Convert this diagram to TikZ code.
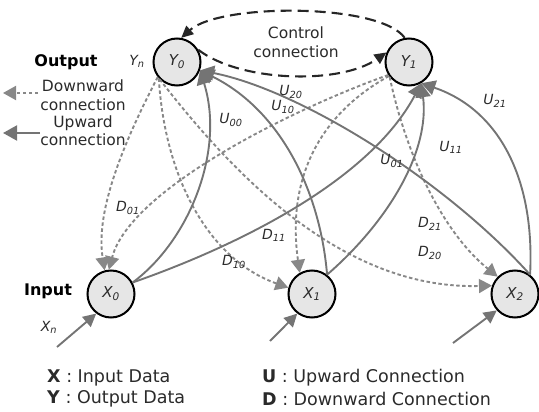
\documentclass[tikz,border=0pt]{standalone}
\usepackage{fontspec}
\setmainfont{DejaVu Sans}
\usetikzlibrary{arrows.meta}
\definecolor{upc}{HTML}{747474}
\definecolor{dnc}{HTML}{888888}
\definecolor{nfill}{HTML}{E6E6E6}
\definecolor{tgray}{HTML}{2A2A2A}
\begin{document}
\begin{tikzpicture}[x=1pt,y=-1pt,
  vnode/.style={circle,draw=black,line width=2pt,fill=nfill,minimum size=47pt,inner sep=0pt,
    font=\fontsize{15}{18}\selectfont\itshape,text=tgray},
  upline/.style={draw=upc,line width=1.9pt,-{Triangle[length=14pt,width=15pt,fill=upc]}},
  dnline/.style={draw=dnc,line width=1.9pt,dash pattern=on 3.5pt off 2.5pt,-{Triangle[length=13pt,width=14pt,fill=dnc]}},
  ctrl/.style={draw=black!85,line width=2.1pt,dash pattern=on 11pt off 6pt,-{Triangle[length=12pt,width=11pt]}},
  inarrow/.style={draw=upc,line width=1.9pt,-{Triangle[length=13pt,width=13pt,fill=upc]}},
  lab/.style={font=\fontsize{14}{16}\selectfont\itshape,text=tgray,inner sep=0pt},
  txt/.style={font=\fontsize{15.5}{19}\selectfont,align=center,inner sep=0pt,text=tgray},
  boldtxt/.style={font=\fontsize{16}{19}\selectfont\bfseries,inner sep=0pt},
  legend/.style={font=\fontsize{17.5}{21}\selectfont,anchor=west,inner sep=0pt,text=tgray}]
\useasboundingbox (0,0) rectangle (539,412);

% nodes
\node[vnode] (Y0) at (177,62) {Y\textsubscript{0}};
\node[vnode] (Y1) at (409,62) {Y\textsubscript{1}};
\node[vnode] (X0) at (111,294) {X\textsubscript{0}};
\node[vnode] (X1) at (312,294) {X\textsubscript{1}};
\node[vnode] (X2) at (515,294) {X\textsubscript{2}};

% control connection
\node[txt] (ctl) at (296,42) {Control\\connection};
\draw[ctrl] (Y1.100) .. controls (380,3) and (220,3) .. (Y0.80);
\draw[ctrl] (Y0.30) .. controls (240,82) and (340,85) .. (Y1.157);

% downward connections
\draw[dnline] (Y0.218) .. controls (125,140) and (95,210) .. (X0.105);
\draw[dnline] (Y0.222) .. controls (165,180) and (210,260) .. (X1.165);
\draw[dnline] (Y0.225) .. controls (230,170) and (340,290) .. (X2.160);
\draw[dnline] (Y1.212) .. controls (290,110) and (130,190) .. (X0.95);
\draw[dnline] (Y1.215) .. controls (310,120) and (288,190) .. (X1.120);
\draw[dnline] (Y1.218) .. controls (405,150) and (440,230) .. (X2.135);

% upward connections
\draw[upline] (X0.28) .. controls (190,240) and (225,150) .. (Y0.-20);
\draw[upline] (X1.52) .. controls (320,190) and (280,110) .. (Y0.-20);
\draw[upline] (X2.52) .. controls (445,180) and (300,90) .. (Y0.-20);
\draw[upline] (X0.28) .. controls (240,245) and (370,180) .. (Y1.-60);
\draw[upline] (X1.52) .. controls (390,220) and (430,150) .. (Y1.-60);
\draw[upline] (X2.52) .. controls (535,180) and (500,110) .. (Y1.-60);

% labels
\node[lab] (u00) at (231,120) {U\textsubscript{00}};
\node[lab] (u10) at (283,107) {U\textsubscript{10}};
\node[lab] (u20) at (291,92) {U\textsubscript{20}};
\node[lab] (u01) at (392,161) {U\textsubscript{01}};
\node[lab] (u11) at (451,147) {U\textsubscript{11}};
\node[lab] (u21) at (495,101) {U\textsubscript{21}};
\node[lab] (d01) at (128,208) {D\textsubscript{01}};
\node[lab] (d10) at (234,262) {D\textsubscript{10}};
\node[lab] (d11) at (274,235) {D\textsubscript{11}};
\node[lab] (d21) at (430,224) {D\textsubscript{21}};
\node[lab] (d20) at (430,253) {D\textsubscript{20}};
\node[lab] (yn) at (137,61) {Y\textsubscript{n}};
\node[lab] (xn) at (49,327) {X\textsubscript{n}};

% left side texts
\node[boldtxt] (out) at (66,62) {Output};
\node[txt] (dtxt) at (83,95) {Downward\\connection};
\node[txt,font=\fontsize{15.5}{18}\selectfont] (utxt) at (83,131) {Upward\\connection};
\coordinate (dA) at (38,93);
\coordinate (dB) at (3,93);
\coordinate (uA) at (40,133);
\coordinate (uB) at (3,133);
\draw[dnline] (dA) -- (dB);
\draw[upline] (uA) -- (uB);
\node[boldtxt] (inp) at (48,291) {Input};

% input arrows
\coordinate (i0) at (57,347);
\coordinate (i1) at (270,341);
\coordinate (i2) at (453,343);
\draw[inarrow] (i0) -- (X0.233);
\draw[inarrow] (i1) -- (X1.233);
\draw[inarrow] (i2) -- (X2.222);

% legend
\node[legend] (lx) at (47,378) {\textbf{X} : Input Data};
\node[legend] (ly) at (47,399) {\textbf{Y} : Output Data};
\node[legend] (lu) at (262,378) {\textbf{U} : Upward Connection};
\node[legend] (ld) at (262,399) {\textbf{D} : Downward Connection};
\end{tikzpicture}
\end{document}
